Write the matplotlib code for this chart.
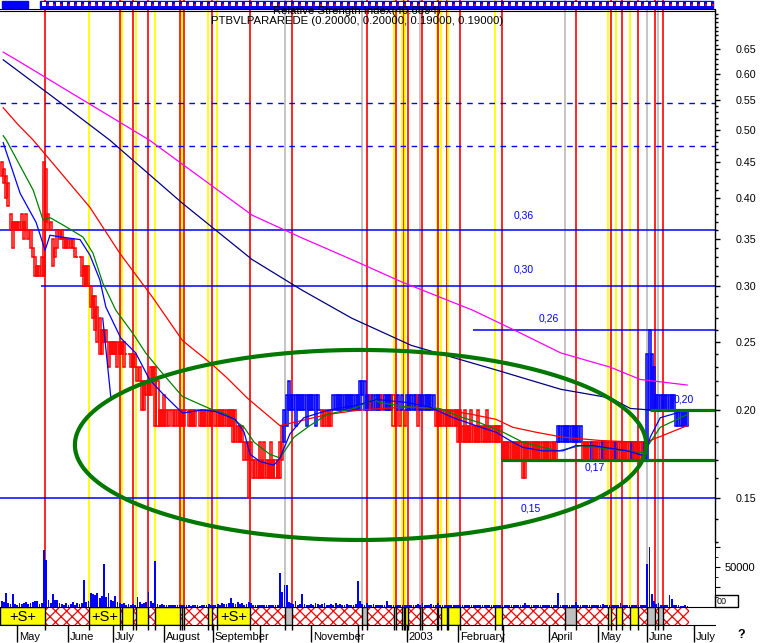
import numpy as np
import pandas as pd
import matplotlib
matplotlib.use("Agg")
import matplotlib.pyplot as plt
from matplotlib.patches import Rectangle
from matplotlib.lines import Line2D
from matplotlib.ticker import FixedLocator, NullFormatter, FuncFormatter
import matplotlib.transforms as mtransforms

plt.rcParams["font.family"] = ["Liberation Sans", "DejaVu Sans"]
plt.rcParams["hatch.color"] = "#ff0000"
plt.rcParams["hatch.linewidth"] = 0.9

# ---------------- data ----------------
first_day = "2002-04-22"
dates = pd.bdate_range(first_day, periods=309)
axis_dates = pd.bdate_range(first_day, "2003-07-15")

# daily high / low in cents
high = [45, 44, 43, 42, 38, 37, 37, 37, 37, 38,
        37, 38, 36, 36, 34, 33, 32, 32, 33, 45,
        44, 38, 37, 35, 34, 36, 36, 36, 35, 35,
        35, 35, 35, 34, 33, 33, 33, 32, 32, 32,
        30, 29, 29, 28, 27, 26, 26, 26, 25, 25,
        25, 25, 25, 25, 25, 25, 24, 24, 24, 24,
        24, 23, 23, 22, 22, 22, 22, 23, 23, 23,
        22, 20, 20, 21, 20, 20, 20, 20, 20, 20,
        20, 20, 20, 20, 20, 20, 20, 20, 20, 20,
        20, 20, 20, 20, 20, 20, 20, 20, 20, 20,
        20, 20, 20, 20, 20, 20, 19, 19, 19, 18,
        18, 18, 18, 17, 17, 17, 18, 17, 18, 17,
        17, 18, 17, 17, 17, 18, 19, 20, 21, 22,
        21, 21, 21, 21, 21, 21, 21, 21, 21, 21,
        21, 21, 21, 20, 20, 20, 20, 20, 20, 21,
        21, 21, 21, 21, 21, 21, 21, 21, 21, 21,
        21, 22, 22, 22, 21, 21, 21, 21, 21, 21,
        21, 21, 21, 21, 21, 21, 21, 21, 21, 20,
        21, 20, 21, 21, 21, 21, 21, 21, 21, 21,
        21, 21, 21, 21, 21, 20, 20, 20, 20, 20,
        20, 20, 20, 20, 20, 20, 20, 19, 20, 19,
        19, 20, 19, 19, 20, 19, 19, 19, 20, 19,
        19, 19, 19, 19, 19, 18, 18, 18, 18, 18,
        18, 18, 18, 18, 18, 18, 18, 18, 18, 18,
        18, 18, 18, 18, 18, 18, 18, 18, 18, 18,
        19, 19, 19, 19, 19, 19, 19, 19, 19, 19,
        19, 18, 18, 18, 18, 18, 18, 18, 18, 18,
        18, 18, 18, 18, 18, 18, 18, 18, 18, 18,
        18, 18, 18, 18, 18, 18, 18, 18, 18, 18,
        24, 26, 24, 23, 21, 21, 21, 21, 21, 21,
        21, 21, 21, 20, 20, 20, 20, 20, 20]
low = [43, 42, 40, 39, 36, 34, 36, 36, 36, 36,
       35, 36, 35, 34, 33, 31, 31, 31, 31, 31,
       37, 36, 36, 32, 33, 34, 35, 35, 34, 34,
       34, 34, 34, 33, 33, 33, 31, 30, 30, 30,
       28, 27, 26, 25, 24, 24, 25, 25, 23, 24,
       24, 24, 23, 24, 24, 23, 24, 24, 23, 23,
       23, 22, 22, 20, 20, 21, 21, 21, 22, 19,
       19, 19, 19, 19, 19, 19, 20, 19, 19, 19,
       19, 19, 19, 20, 19, 19, 19, 19, 20, 19,
       19, 19, 19, 19, 19, 20, 19, 19, 19, 19,
       19, 19, 19, 19, 18, 18, 18, 18, 18, 17,
       17, 15, 17, 16, 16, 16, 16, 16, 16, 16,
       16, 16, 16, 16, 16, 16, 17, 18, 19, 20,
       20, 20, 19, 20, 20, 20, 20, 19, 20, 20,
       20, 19, 20, 20, 19, 19, 19, 19, 19, 20,
       20, 20, 20, 20, 20, 20, 20, 20, 20, 20,
       20, 20, 21, 20, 20, 20, 20, 20, 20, 20,
       20, 20, 20, 20, 20, 20, 19, 19, 20, 19,
       20, 19, 20, 20, 20, 20, 20, 19, 20, 20,
       20, 20, 20, 20, 20, 19, 19, 19, 19, 19,
       19, 19, 19, 19, 19, 18, 18, 18, 18, 18,
       18, 18, 18, 18, 18, 18, 18, 18, 18, 18,
       18, 18, 18, 18, 18, 17, 17, 17, 17, 17,
       17, 17, 17, 17, 16, 16, 17, 17, 17, 17,
       17, 17, 17, 17, 17, 17, 17, 17, 17, 17,
       18, 18, 18, 18, 18, 18, 18, 18, 18, 18,
       18, 17, 17, 17, 17, 17, 17, 17, 17, 17,
       17, 17, 17, 17, 17, 17, 17, 17, 17, 17,
       17, 17, 17, 17, 17, 17, 17, 17, 17, 17,
       17, 20, 20, 20, 20, 20, 20, 20, 20, 20,
       20, 20, 20, 19, 19, 19, 19, 19, 19]
# day ranges drawn in blue (up days), all others red
up_days = [(127, 143), (149, 165), (167, 170), (172, 175), (178, 178), (180, 180),
           (182, 186), (188, 194), (250, 260), (265, 265), (270, 270), (276, 276),
           (283, 283), (289, 308)]

# volume, thousands
volume_k = [8, 6, 17, 5, 4, 16, 4, 3, 5, 4, 5, 6, 4, 5, 6, 7, 8, 4, 5, 71,
            59, 9, 5, 16, 9, 9, 5, 4, 3, 5, 3, 4, 6, 3, 5, 4, 5, 34, 6, 8,
            17, 16, 15, 18, 11, 14, 54, 12, 17, 9, 8, 14, 6, 5, 4, 5, 3, 4, 3, 4,
            3, 13, 6, 4, 5, 6, 19, 7, 5, 57, 4, 3, 4, 2, 3, 2, 3, 2, 2, 3,
            2, 3, 2, 2, 2, 1, 2, 2, 2, 1, 3, 2, 2, 4, 2, 3, 2, 4, 3, 5,
            4, 4, 5, 11, 5, 4, 6, 4, 5, 3, 4, 6, 5, 3, 2, 2, 2, 2, 2, 2,
            2, 3, 2, 2, 3, 42, 19, 28, 27, 6, 5, 4, 7, 3, 4, 16, 4, 3, 3, 4,
            3, 5, 4, 3, 4, 5, 3, 2, 4, 3, 5, 3, 4, 3, 2, 4, 3, 2, 3, 4,
            33, 8, 4, 3, 5, 3, 3, 4, 2, 3, 2, 3, 2, 8, 3, 2, 2, 3, 2, 2,
            3, 2, 2, 3, 2, 2, 3, 4, 3, 5, 3, 2, 3, 4, 3, 2, 5, 2, 2, 3,
            2, 2, 3, 2, 2, 2, 3, 2, 2, 2, 3, 2, 2, 2, 3, 2, 2, 2, 2, 3,
            2, 2, 2, 3, 2, 2, 2, 2, 3, 2, 2, 2, 3, 2, 2, 5, 2, 2, 2, 3,
            2, 2, 2, 2, 3, 2, 2, 2, 2, 3, 17, 3, 2, 2, 2, 2, 2, 2, 6, 3,
            2, 2, 3, 2, 2, 3, 2, 2, 2, 2, 4, 2, 2, 2, 3, 2, 2, 2, 5, 2,
            3, 2, 2, 2, 3, 2, 2, 2, 3, 2, 54, 75, 16, 8, 4, 5, 3, 2, 2, 3,
            15, 10, 2, 2, 2, 1, 1, 2, 1]

# moving average lines (day index, price)
ma_blue_day = [0.7, 8.3, 15.5, 19.5, 21.7, 26.7, 35.2, 39.6, 44.1, 46.8, 53.5, 60.2, 66.4, 72.3, 81.2,
               90.1, 96.0, 104.9, 108.9, 111.6, 116.1, 122.3, 125.0, 129.5, 135.7, 144.7, 150.5, 159.4,
               168.4, 181.8, 192.1, 202.8, 213.1, 222.0, 229.6, 234.1, 243.0, 252.0, 257.8, 265.8,
               281.0, 289.1, 291.3, 295.8, 307.9]
ma_blue_val = [0.479, 0.406, 0.369, 0.337, 0.354, 0.352, 0.349, 0.332, 0.306, 0.280, 0.253, 0.241, 0.221,
               0.211, 0.198, 0.200, 0.199, 0.194, 0.186, 0.173, 0.169, 0.167, 0.171, 0.185, 0.195, 0.199,
               0.201, 0.203, 0.207, 0.205, 0.202, 0.195, 0.190, 0.186, 0.180, 0.177, 0.175, 0.175, 0.178,
               0.178, 0.175, 0.172, 0.183, 0.195, 0.200]
ma_green_day = [0.7, 2.1, 14.2, 18.6, 21.7, 27.6, 36.5, 41.0, 45.4, 51.3, 58.9, 64.7, 70.9, 81.2, 93.3,
                101.3, 108.9, 113.4, 120.5, 125.0, 131.3, 138.4, 146.0, 158.1, 167.0, 169.7, 181.8,
                196.5, 207.3, 214.4, 225.2, 234.1, 243.0, 250.2, 260.0, 281.0, 288.2, 295.8, 307.9]
ma_green_val = [0.490, 0.483, 0.410, 0.372, 0.375, 0.366, 0.352, 0.334, 0.303, 0.277, 0.257, 0.241,
                0.228, 0.209, 0.201, 0.197, 0.189, 0.180, 0.173, 0.171, 0.183, 0.190, 0.197, 0.201,
                0.207, 0.205, 0.202, 0.201, 0.195, 0.192, 0.186, 0.180, 0.177, 0.175, 0.178, 0.175,
                0.174, 0.189, 0.197]
ma_red_day = [0.7, 7.4, 14.2, 39.6, 53.0, 67.8, 81.2, 94.6, 101.3, 110.3, 125.0, 146.0, 160.8, 181.8,
              195.2, 211.7, 222.0, 229.6, 239.9, 252.0, 269.0, 286.8, 291.3, 307.9]
ma_red_val = [0.537, 0.508, 0.483, 0.388, 0.334, 0.289, 0.251, 0.232, 0.222, 0.208, 0.190, 0.197,
              0.200, 0.202, 0.201, 0.197, 0.194, 0.189, 0.186, 0.183, 0.181, 0.180, 0.181, 0.190]
ma_navy_day = [0.7, 23.1, 48.6, 81.2, 112.5, 134.8, 157.2, 184.0, 222.0, 251.1, 273.4, 282.4, 291.3, 307.9]
ma_navy_val = [0.628, 0.556, 0.483, 0.393, 0.327, 0.296, 0.270, 0.247, 0.228, 0.214, 0.208, 0.201,
               0.200, 0.200]
ma_pink_day = [0.7, 6.6, 66.4, 112.5, 134.8, 157.2, 179.6, 211.7, 233.2, 251.1, 273.4, 286.8, 307.9]
ma_pink_val = [0.644, 0.628, 0.483, 0.378, 0.351, 0.327, 0.304, 0.277, 0.257, 0.241, 0.230, 0.221, 0.217]
drop_line_day = [45.4, 49.0]
drop_line_val = [0.270, 0.209]

# signal boxes in the strip (start day, end day)
yellow_boxes = [(-0.7, 19.5), (39.2, 53.0), (53.9, 58.9), (60.2, 65.6), (68.7, 79.9), (81.2, 82.1),
                (92.8, 94.6), (96.9, 111.6), (176.4, 177.3), (180.0, 180.9), (181.3, 182.7),
                (195.6, 196.1), (197.4, 200.1), (200.6, 205.9), (221.6, 224.7), (272.5, 273.9),
                (276.1, 278.8), (282.4, 286.0)]
gray_boxes = [(127.2, 130.4), (161.7, 163.9), (188.0, 188.9), (252.9, 257.8), (290.0, 293.5), (294.9, 297.1)]
strip_labels = [0, 1, 7]

# drawn levels and the analyst's ellipse
blue_levels = [(0.36, -0.74), (0.30, 17.7), (0.26, 211.7), (0.15, -0.74)]
dashed_levels = [0.545, 0.474]
green_levels = [(0.20, 291.3), (0.17, 224.3)]
level_text = ["0,36", "0,30", "0,26", "0,20", "0,17", "0,15"]
level_text_day = [230.1, 230.1, 241.2, 302.0, 261.8, 233.2]
level_text_val = [0.378, 0.316, 0.270, 0.207, 0.166, 0.145]
ellipse_center = (161.2, 0.1784)
ellipse_half_days = 128.3
ellipse_half_log = 0.3105

month_names = ["May", "June", "July", "August", "September", "", "November", "",
               "2003", "February", "", "April", "May", "June", "July"]

# ---------------- figure ----------------
W, H = 761, 643
fig = plt.figure(figsize=(W / 100, H / 100), dpi=100)


def frame(x0, y0, x1, y1):
    return [x0 / W, 1 - y1 / H, (x1 - x0) / W, (y1 - y0) / H]


XL = (-0.74, 320.4)
x = np.arange(len(high))
hi = np.array(high) / 100.0
lo = np.array(low) / 100.0
cols = np.array(["#ff0000"] * len(x), dtype=object)
for a, b in up_days:
    cols[a:b + 1] = "#0000ff"

RED, YEL, GRY, BLU, GRN = "#ff0000", "#ffff00", "#c0c0c0", "#0000ff", "#007800"


def signal_lines(a):
    for s, e in yellow_boxes:
        if s > 0:
            a.axvline(s, color=YEL, lw=1.3, zorder=1)
        a.axvline(e, color=RED, lw=1.2, zorder=1)
    for s, e in gray_boxes:
        a.axvline(s, color=GRY, lw=1.3, zorder=1)
        a.axvline(e, color=RED, lw=1.2, zorder=1)


# price panel
ax = fig.add_axes(frame(0, 10, 715, 543))
ax.set_yscale("log")
ax.set_xlim(XL)
ax.set_ylim(0.1295, 0.739)
signal_lines(ax)

for v, s in blue_levels:
    ax.hlines(v, s, XL[1], color=BLU, lw=1.1, zorder=2)
for v in dashed_levels:
    ax.hlines(v, XL[0], XL[1], color=BLU, lw=1.0, linestyles=(0, (4, 4)), zorder=2)

ax.bar(x, hi - lo, bottom=lo, width=0.9, fill=False, edgecolor=list(cols), linewidth=1.1, zorder=3)

ax.plot(ma_pink_day, ma_pink_val, color="#ff00ff", lw=0.9, zorder=4)
ax.plot(ma_navy_day, ma_navy_val, color="#000080", lw=0.9, zorder=4)
ax.plot(ma_red_day, ma_red_val, color=RED, lw=0.9, zorder=4)
ax.plot(ma_green_day, ma_green_val, color="#008000", lw=0.9, zorder=4)
ax.plot(ma_blue_day, ma_blue_val, color=BLU, lw=0.9, zorder=4)
ax.plot(drop_line_day, drop_line_val, color=BLU, lw=0.9, zorder=4)

for v, s in green_levels:
    ax.hlines(v, s, XL[1], color=GRN, lw=2.3, zorder=5)

t = np.linspace(0, 2 * np.pi, 500)
ax.plot(ellipse_center[0] + ellipse_half_days * np.cos(t),
        ellipse_center[1] * np.exp(ellipse_half_log * np.sin(t)),
        color=GRN, lw=3.0, zorder=6)

for txt, d, v in zip(level_text, level_text_day, level_text_val):
    ax.text(d, v, txt, color=BLU, fontsize=7.5, ha="left", va="center", zorder=7)

for s in ["left", "top", "bottom"]:
    ax.spines[s].set_visible(False)
ax.spines["right"].set_linewidth(1.0)
ax.set_xticks([])
ax.yaxis.tick_right()
majors = [0.15, 0.20, 0.25, 0.30, 0.35, 0.40, 0.45, 0.50, 0.55, 0.60, 0.65]
minors = [m for m in np.round(np.arange(0.13, 0.74, 0.01), 2) if m not in majors]
ax.yaxis.set_major_locator(FixedLocator(majors))
ax.yaxis.set_major_formatter(FuncFormatter(lambda v, p: f"{v:.2f}"))
ax.yaxis.set_minor_locator(FixedLocator(minors))
ax.yaxis.set_minor_formatter(NullFormatter())
ax.tick_params(axis="y", which="major", length=3.6, width=1, labelsize=7.7, pad=11)
ax.tick_params(axis="y", which="minor", length=1.8, width=1)

# volume panel
axv = fig.add_axes(frame(0, 543, 715, 607))
axv.set_xlim(XL)
axv.set_ylim(0, 80000)
signal_lines(axv)
axv.bar(x, np.array(volume_k) * 1000, width=0.8, color=BLU, zorder=3)
for s in ["left", "top", "bottom"]:
    axv.spines[s].set_visible(False)
axv.set_xticks([])
axv.yaxis.tick_right()
axv.set_yticks([25000, 50000, 75000])
axv.set_yticklabels(["", "50000", ""])
axv.yaxis.set_minor_locator(FixedLocator([12500, 37500, 62500]))
axv.tick_params(axis="y", which="major", length=3.6, labelsize=8, pad=3)
axv.tick_params(axis="y", which="minor", length=1.8)

# signal strip
axs = fig.add_axes(frame(0, 607, 715, 625))
axs.set_xlim(XL)
axs.set_ylim(0, 1)
axs.add_patch(Rectangle((XL[0], 0), len(x) - 0.5 - XL[0], 1, facecolor="white",
                        edgecolor=RED, hatch="xxx", lw=0, zorder=1))
for i, (s, e) in enumerate(yellow_boxes):
    axs.add_patch(Rectangle((s, 0), e - s, 1, facecolor=YEL, edgecolor="black", lw=1, zorder=2))
    if i in strip_labels:
        axs.text((s + e) / 2, 0.45, "+S+", ha="center", va="center", fontsize=10.5, zorder=3)
for s, e in gray_boxes:
    axs.add_patch(Rectangle((s, 0), e - s, 1, facecolor=GRY, edgecolor="black", lw=1, zorder=2))
for s in ["left", "right"]:
    axs.spines[s].set_visible(False)
axs.set_yticks([])
month_pos = [i for i in range(1, len(axis_dates)) if axis_dates[i].month != axis_dates[i - 1].month]
axs.set_xticks(month_pos)
axs.set_xticklabels([])
bounds = sorted({b for box in yellow_boxes + gray_boxes for b in box if b > 0})
axs.set_xticks(bounds, minor=True)
axs.tick_params(axis="x", which="major", length=12.2, width=1)
axs.tick_params(axis="x", which="minor", length=3.6, width=1)
tr = mtransforms.blended_transform_factory(axs.transData, axs.transAxes)
for p, name in zip(month_pos, month_names):
    if name:
        axs.text(p + 0.8, -0.68, name, transform=tr, ha="left", va="center", fontsize=8)

# top tool strip
axt = fig.add_axes(frame(0, 0, 715, 8.5))
axt.set_xlim(XL)
axt.set_ylim(8.5, 0)
axt.axis("off")
signal_lines(axt)
ta = mtransforms.blended_transform_factory(axt.transAxes, axt.transData)
axt.add_patch(Rectangle((40 / 715, 1), 673 / 715, 7, color=BLU, transform=ta, zorder=2))
axt.add_patch(Rectangle((2 / 715, 1), 26 / 715, 7, color=BLU, transform=ta, zorder=2))
sq = np.arange(44, 712, 7) / 715
axt.scatter(sq, np.full(len(sq), 4.0), marker="s", s=5, color="white", lw=0, transform=ta, zorder=3)
axt.scatter(sq + 3.5 / 715, np.full(len(sq), 4.5), marker="s", s=2, color=RED, lw=0, transform=ta, zorder=3)

# titles and frame lines
fig.text(357 / W, 1 - 11.5 / H, "Relative Strength Index(40.6894)", ha="center", va="center",
         fontsize=8.2, zorder=1)
fig.text(357 / W, 1 - 20.5 / H, "PTBVLPARAREDE (0.20000, 0.20000, 0.19000, 0.19000)",
         ha="center", va="center", fontsize=8.2)
for yy in (8.8, 10.6):
    fig.add_artist(Line2D([0, 715 / W], [1 - yy / H, 1 - yy / H], color="black", lw=0.8, zorder=5))
fig.add_artist(Rectangle((715 / W, 1 - 607 / H), 23 / W, 12 / H, fill=False, edgecolor="black",
                         lw=1, transform=fig.transFigure))
fig.text(717 / W, 1 - 601 / H, "00", fontsize=6.5, ha="left", va="center")
fig.text(741 / W, 1 - 635 / H, "?", fontsize=9, fontweight="bold", ha="center", va="center")

fig.savefig("out.png", dpi=100)
